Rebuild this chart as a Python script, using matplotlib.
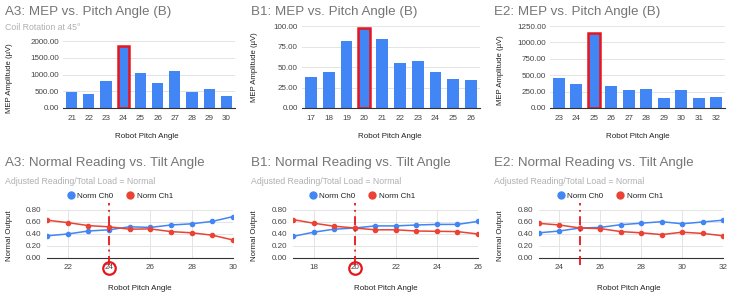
import matplotlib
matplotlib.use('Agg')
import matplotlib.pyplot as plt
from matplotlib.lines import Line2D
from matplotlib.ticker import FormatStrFormatter, MultipleLocator
import matplotlib.transforms as mtransforms

plt.rcParams['font.family'] = ['Liberation Sans', 'DejaVu Sans']

# --- data ---
a3_angles = [21, 22, 23, 24, 25, 26, 27, 28, 29, 30]
a3_mep = [480, 420, 820, 1850, 1050, 740, 1100, 475, 565, 355]
a3_ch0 = [0.37, 0.40, 0.45, 0.47, 0.52, 0.51, 0.55, 0.57, 0.61, 0.69]
a3_ch1 = [0.63, 0.59, 0.54, 0.52, 0.48, 0.485, 0.44, 0.42, 0.38, 0.30]

b1_angles = [17, 18, 19, 20, 21, 22, 23, 24, 25, 26]
b1_mep = [37.5, 44.5, 82, 98, 84.5, 55, 57.5, 44, 35, 34]
b1_ch0 = [0.36, 0.43, 0.48, 0.50, 0.535, 0.535, 0.55, 0.56, 0.56, 0.61]
b1_ch1 = [0.64, 0.58, 0.53, 0.50, 0.47, 0.47, 0.45, 0.445, 0.44, 0.40]

e2_angles = [23, 24, 25, 26, 27, 28, 29, 30, 31, 32]
e2_mep = [450, 360, 1150, 335, 275, 295, 157, 275, 157, 167]
e2_ch0 = [0.42, 0.45, 0.50, 0.51, 0.555, 0.58, 0.605, 0.57, 0.60, 0.63]
e2_ch1 = [0.577, 0.55, 0.50, 0.49, 0.44, 0.42, 0.39, 0.43, 0.41, 0.37]

BLUE = '#4285f4'
RED = '#ea4335'
HL = '#e8151b'
TITLE_C = '#757575'
SUB_C = '#b0b0b0'
TXT = '#444444'
GRID = '#e4e4e4'

W, H = 731, 296
fig = plt.figure(figsize=(W / 100, H / 100), dpi=100)


def px_axes(l, t, r, b):
    return fig.add_axes([l / W, 1 - b / H, (r - l) / W, (b - t) / H])


def ftext(x, y, s, **kw):
    fig.text(x / W, 1 - y / H, s, **kw)


def bar_panel(box, angles, vals, hl, ymax, step, title, sub, tx, ylx, yly, xlx):
    ax = px_axes(*box)
    idx = list(range(len(angles)))
    bars = ax.bar(idx, vals, width=0.66, color=BLUE, zorder=2)
    b = bars[angles.index(hl)]
    b.set_edgecolor(HL)
    b.set_linewidth(1.8)
    ax.set_xlim(-0.5, len(angles) - 0.5)
    ax.set_ylim(0, ymax)
    ax.yaxis.set_major_locator(MultipleLocator(step))
    ax.yaxis.set_major_formatter(FormatStrFormatter('%.2f'))
    ax.set_xticks(idx)
    ax.set_xticklabels([str(a) for a in angles])
    ax.grid(axis='y', color=GRID, lw=0.7, zorder=0)
    for s in ['top', 'right', 'left']:
        ax.spines[s].set_visible(False)
    ax.spines['bottom'].set_color('#333333')
    ax.spines['bottom'].set_linewidth(0.8)
    ax.tick_params(length=0, labelsize=5.8, colors=TXT, pad=3)
    ax.tick_params(axis='x', pad=5)
    ftext(tx, 12, title, fontsize=9.6, color=TITLE_C, va='center')
    if sub:
        ftext(tx, 27, sub, fontsize=6.3, color=SUB_C, va='center')
    ftext(ylx, yly, 'MEP Amplitude (µV)', rotation=90, fontsize=5.6,
          color='#222222', va='center', ha='center')
    ftext(xlx, 136, 'Robot Pitch Angle', fontsize=5.8, color='#222222',
          va='center', ha='center')
    return ax


def line_panel(box, angles, ch0, ch1, hl, ticks, circle, title, tx, ylx, xlx, lgx):
    ax = px_axes(*box)
    ax.plot(angles, ch0, color=BLUE, lw=1.1, marker='o', ms=3, zorder=3)
    ax.plot(angles, ch1, color=RED, lw=1.1, marker='o', ms=3, zorder=3)
    ax.set_xlim(angles[0], angles[-1])
    ax.set_ylim(0, 0.8)
    ax.yaxis.set_major_locator(MultipleLocator(0.2))
    ax.yaxis.set_major_formatter(FormatStrFormatter('%.2f'))
    ax.set_xticks(ticks)
    ax.grid(color=GRID, lw=0.7, zorder=0)
    for s in ['top', 'right', 'left']:
        ax.spines[s].set_visible(False)
    ax.spines['bottom'].set_color('#333333')
    ax.spines['bottom'].set_linewidth(0.8)
    ax.tick_params(length=0, labelsize=5.8, colors=TXT, pad=4)
    trans = mtransforms.blended_transform_factory(ax.transData, ax.transAxes)
    ax.plot([hl, hl], [-0.14, 1.15], transform=trans, color=HL, lw=1.3,
            ls=(0, (5, 2.5, 1, 2.5)), clip_on=False, zorder=4)
    if circle:
        ax.plot([hl], [-0.2], transform=trans, marker='o', ms=9, mfc='none',
                mec=HL, mew=1.6, clip_on=False, zorder=5)
    ftext(tx, 163, title, fontsize=9.6, color=TITLE_C, va='center')
    ftext(tx, 181, 'Adjusted Reading/Total Load = Normal', fontsize=6.3,
          color=SUB_C, va='center')
    ftext(ylx, 236, 'Normal Output', rotation=90, fontsize=5.6,
          color='#222222', va='center', ha='center')
    ftext(xlx, 289, 'Robot Pitch Angle', fontsize=5.8, color='#222222',
          va='center', ha='center')
    handles = [Line2D([], [], ls='none', marker='o', ms=5, color=BLUE),
               Line2D([], [], ls='none', marker='o', ms=5, color=RED)]
    leg = fig.legend(handles, ['Norm Ch0', 'Norm Ch1'], loc='center',
                     bbox_to_anchor=(lgx / W, 1 - 196 / H), ncol=2,
                     frameon=False, fontsize=5.8, handletextpad=0.3,
                     columnspacing=1.6, handlelength=1.0, borderpad=0)
    for t in leg.get_texts():
        t.set_color('#222222')
    return ax


bar_panel((63, 41, 235, 108), a3_angles, a3_mep, 24, 2000, 500,
          'A3: MEP vs. Pitch Angle (B)', 'Coil Rotation at 45°', 5, 10, 78, 147)
bar_panel((302, 26, 480, 108), b1_angles, b1_mep, 20, 100, 25,
          'B1: MEP vs. Pitch Angle (B)', None, 251, 254, 67, 390)
bar_panel((550, 26, 725, 108), e2_angles, e2_mep, 25, 1250, 250,
          'E2: MEP vs. Pitch Angle (B)', None, 494, 500, 70, 638)

line_panel((47, 210, 233, 258), a3_angles, a3_ch0, a3_ch1, 24,
           [22, 24, 26, 28, 30], True,
           'A3: Normal Reading vs. Tilt Angle', 5, 10, 140, 120)
line_panel((293, 210, 478, 258), b1_angles, b1_ch0, b1_ch1, 20,
           [18, 20, 22, 24, 26], True,
           'B1: Normal Reading vs. Tilt Angle', 251, 254, 386, 362)
line_panel((539, 210, 723, 258), e2_angles, e2_ch0, e2_ch1, 25,
           [24, 26, 28, 30, 32], False,
           'E2: Normal Reading vs. Tilt Angle', 494, 500, 629, 610)

fig.savefig('out.png', dpi=100)
